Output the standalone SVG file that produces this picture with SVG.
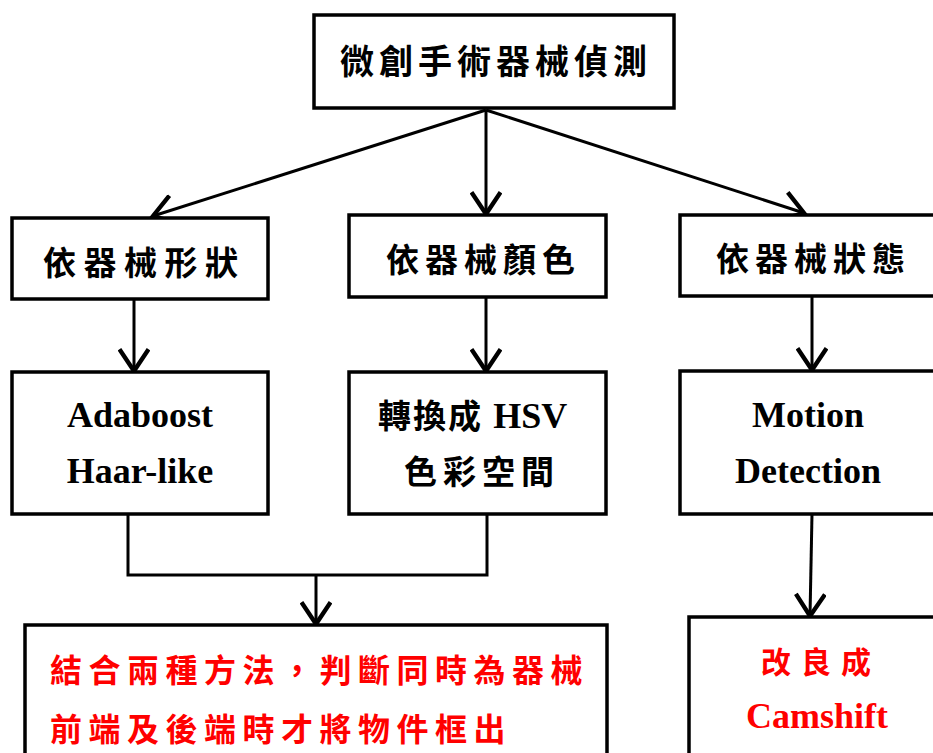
<svg xmlns="http://www.w3.org/2000/svg" width="933" height="753" viewBox="0 0 933 753">
<defs>
<style>
.box{fill:#fff;stroke:#000;stroke-width:3.5}
.ln{fill:none;stroke:#000;stroke-width:3}
.cjk{font-family:"Liberation Serif","Noto Sans CJK TC",serif;font-weight:700;fill:#000}
.lat{font-family:"Liberation Serif","Noto Sans CJK TC",serif;font-weight:700;fill:#000;font-size:36px;letter-spacing:0}
.red{fill:#ff0000}
</style>
<marker id="ah" markerUnits="userSpaceOnUse" markerWidth="32" markerHeight="32" refX="17" refY="11" orient="auto" viewBox="0 0 22 22">
<path d="M2,1 L17,11 L2,21" fill="none" stroke="#000" stroke-width="3"/>
</marker>
</defs>
<rect width="933" height="753" fill="#fff"/>
<g id="connectors">
<line class="ln" x1="486" y1="110" x2="153" y2="216" marker-end="url(#ah)"/>
<line class="ln" x1="486" y1="110" x2="486" y2="214" marker-end="url(#ah)"/>
<line class="ln" x1="486" y1="110" x2="804" y2="213" marker-end="url(#ah)"/>
<line class="ln" x1="134" y1="299" x2="134" y2="371" marker-end="url(#ah)"/>
<line class="ln" x1="486" y1="297" x2="486" y2="371" marker-end="url(#ah)"/>
<line class="ln" x1="812" y1="296" x2="812" y2="370" marker-end="url(#ah)"/>
<polyline class="ln" points="128,514 128,575 487,575 487,514"/>
<line class="ln" x1="316" y1="575" x2="316" y2="624" marker-end="url(#ah)"/>
<line class="ln" x1="812" y1="514" x2="810" y2="616" marker-end="url(#ah)"/>
</g>
<g id="n_top">
<rect class="box" x="314" y="15" width="360" height="93"/>
<text class="cjk" x="340" y="74" font-size="34" letter-spacing="5">微創手術器械偵測</text>
</g>
<g id="n_shape">
<rect class="box" x="12" y="218" width="256" height="81"/>
<text class="cjk" x="43" y="275" font-size="33" letter-spacing="7.5">依器械形狀</text>
</g>
<g id="n_color">
<rect class="box" x="349" y="215" width="257" height="82"/>
<text class="cjk" x="386" y="272" font-size="33" letter-spacing="6">依器械顏色</text>
</g>
<g id="n_state">
<rect class="box" x="680" y="215" width="260" height="81"/>
<text class="cjk" x="716" y="271" font-size="33" letter-spacing="6">依器械狀態</text>
</g>
<g id="n_adaboost">
<rect class="box" x="12" y="372" width="256" height="142"/>
<text class="lat" x="140" y="427" text-anchor="middle">Adaboost</text>
<text class="lat" x="140" y="483" text-anchor="middle">Haar-like</text>
</g>
<g id="n_hsv">
<rect class="box" x="349" y="372" width="257" height="142"/>
<text class="cjk" x="378" y="428" font-size="33" letter-spacing="2">轉換成 <tspan class="lat">HSV</tspan></text>
<text class="cjk" x="404" y="484" font-size="33" letter-spacing="6">色彩空間</text>
</g>
<g id="n_motion">
<rect class="box" x="680" y="371" width="260" height="143"/>
<text class="lat" x="808" y="427" text-anchor="middle">Motion</text>
<text class="lat" x="808" y="483" text-anchor="middle" letter-spacing="0.5">Detection</text>
</g>
<g id="n_combine">
<rect class="box" x="25" y="625" width="582" height="140"/>
<text class="cjk red" x="50" y="682" font-size="32" letter-spacing="6.5">結合兩種方法，判斷同時為器械</text>
<text class="cjk red" x="50" y="741" font-size="32" letter-spacing="6.5">前端及後端時才將物件框出</text>
</g>
<g id="n_camshift">
<rect class="box" x="689" y="617" width="260" height="150"/>
<text class="cjk red" x="761" y="673" font-size="30" letter-spacing="10">改良成</text>
<text class="lat red" x="817" y="728" text-anchor="middle">Camshift</text>
</g>
</svg>
